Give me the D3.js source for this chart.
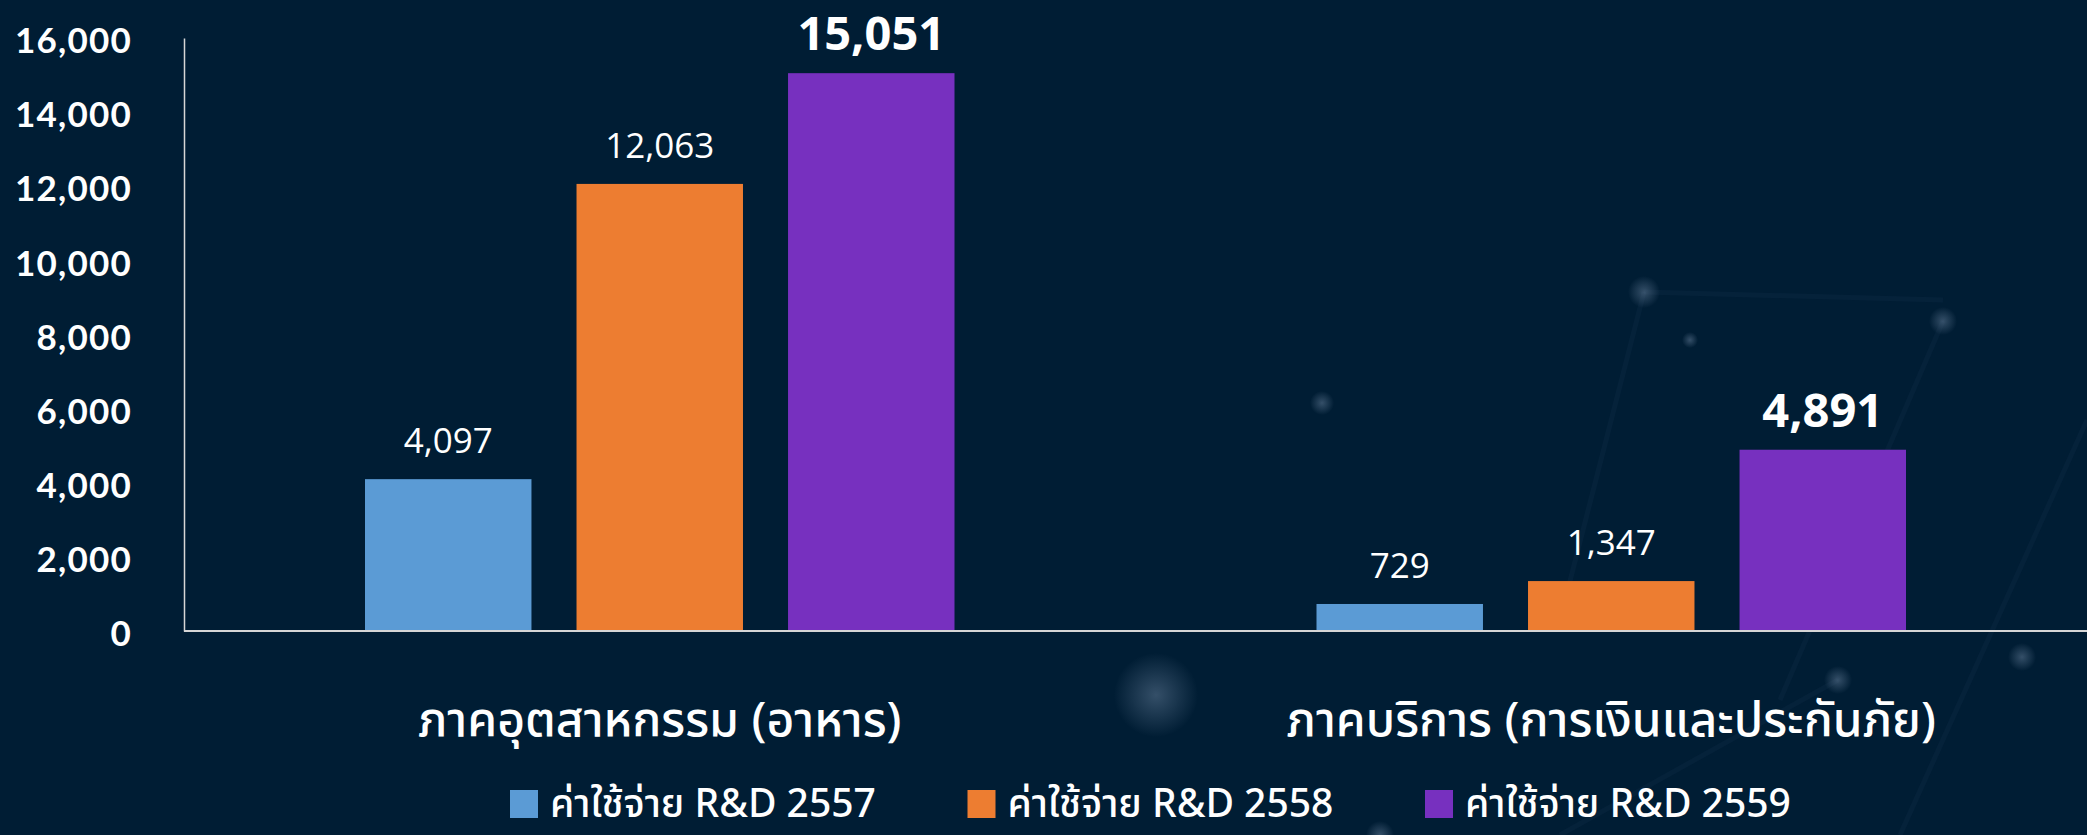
<!DOCTYPE html>
<html>
<head>
<meta charset="utf-8">
<script src="https://cdn.jsdelivr.net/npm/d3@7"></script>
<style>
  html, body { margin: 0; padding: 0; background: #001d34; }
  svg { display: block; }
  .tick text { font-family: "Lato", "Open Sans", sans-serif; }
</style>
</head>
<body>
<svg id="chart"></svg>
<script>
// data
const categories = ["ภาคอุตสาหกรรม (อาหาร)", "ภาคบริการ (การเงินและประกันภัย)"];
const series = ["ค่าใช้จ่าย R&D 2557", "ค่าใช้จ่าย R&D 2558", "ค่าใช้จ่าย R&D 2559"];
const values2557 = [4097, 729];
const values2558 = [12063, 1347];
const values2559 = [15051, 4891];
const yTicks = [0, 2000, 4000, 6000, 8000, 10000, 12000, 14000, 16000];

const colors = ["#5b9bd5", "#ed7d31", "#7730bf"];
const allValues = [values2557, values2558, values2559];

const width = 2087, height = 835;
const plotLeft = 184, plotTop = 38, plotBottom = 631;

const svg = d3.select("#chart").attr("width", width).attr("height", height);

// background glows (decoration)
const defs = svg.append("defs");
const grad = defs.append("radialGradient").attr("id", "glow");
grad.append("stop").attr("offset", "0%").attr("stop-color", "#5f7893").attr("stop-opacity", 0.55);
grad.append("stop").attr("offset", "100%").attr("stop-color", "#5f7893").attr("stop-opacity", 0);

const glows = [[1156, 695, 42], [1644, 292, 16], [1943, 321, 14], [1322, 403, 12],
  [2022, 657, 14], [1838, 680, 14], [1690, 340, 8], [1380, 835, 14]];
const links = [[1644, 292, 1560, 620], [1943, 321, 1780, 700], [1644, 292, 1943, 300],
  [1838, 680, 1560, 835], [2087, 420, 1900, 835]];

svg.append("g").selectAll("line").data(links).join("line")
  .attr("x1", d => d[0]).attr("y1", d => d[1]).attr("x2", d => d[2]).attr("y2", d => d[3])
  .attr("stroke", "#2a4a6a").attr("stroke-opacity", 0.12).attr("stroke-width", 5);
svg.append("g").selectAll("circle").data(glows).join("circle")
  .attr("cx", d => d[0]).attr("cy", d => d[1]).attr("r", d => d[2])
  .attr("fill", "url(#glow)");

// scales
const x0 = d3.scaleBand().domain(categories).range([plotLeft, width]);
const x1 = d3.scaleBand().domain(series)
  .range([181, x0.bandwidth() - 181])
  .paddingInner(0.213);
const y = d3.scaleLinear().domain([0, 16000]).range([plotBottom, plotTop]);

// y axis
const yAxis = svg.append("g")
  .attr("transform", `translate(${plotLeft},0)`)
  .call(d3.axisLeft(y).tickValues(yTicks).tickFormat(d3.format(",")).tickSize(0).tickPadding(52));
yAxis.select(".domain").attr("stroke", "#d6d6d6").attr("stroke-width", 1.5);
yAxis.selectAll(".tick text")
  .attr("fill", "#ffffff")
  .attr("font-size", 35)
  .attr("font-weight", 700)
  .attr("letter-spacing", 1.2)
  .attr("dy", "0.42em");

// bars
const groups = svg.append("g").selectAll("g").data(categories).join("g")
  .attr("transform", d => `translate(${x0(d)},0)`);

groups.selectAll("rect")
  .data((c, ci) => series.map((s, si) => ({ s, si, v: allValues[si][ci] })))
  .join("rect")
  .attr("x", d => x1(d.s))
  .attr("y", d => y(d.v))
  .attr("width", x1.bandwidth())
  .attr("height", d => y(0) - y(d.v))
  .attr("fill", d => colors[d.si]);

// value labels
groups.selectAll("text.val")
  .data((c, ci) => series.map((s, si) => ({ s, si, v: allValues[si][ci] })))
  .join("text")
  .attr("class", "val")
  .attr("x", d => x1(d.s) + x1.bandwidth() / 2)
  .attr("y", d => y(d.v) - (d.si === 2 ? 23 : 26))
  .attr("text-anchor", "middle")
  .attr("fill", "#ffffff")
  .attr("font-family", "'Open Sans', 'Noto Sans', sans-serif")
  .attr("font-size", d => d.si === 2 ? 47 : 35)
  .attr("font-weight", d => d.si === 2 ? 700 : 400)
  .text(d => d3.format(",")(d.v));

// x axis baseline
svg.append("line")
  .attr("x1", plotLeft).attr("x2", width)
  .attr("y1", y(0)).attr("y2", y(0))
  .attr("stroke", "#d6d6d6").attr("stroke-width", 2);

// category labels
svg.append("g").selectAll("text").data(categories).join("text")
  .attr("x", d => x0(d) + x0.bandwidth() / 2)
  .attr("y", 736)
  .attr("text-anchor", "middle")
  .attr("fill", "#ffffff")
  .attr("font-family", "'Noto Sans Thai', 'Noto Sans', Tahoma, sans-serif")
  .attr("font-size", 48)
  .attr("font-weight", 500)
  .text(d => d);

// legend
const legend = svg.append("g").selectAll("g").data(series).join("g")
  .attr("transform", (d, i) => `translate(${510 + i * 457.5},790)`);
legend.append("rect").attr("width", 28).attr("height", 28).attr("fill", (d, i) => colors[i]);
legend.append("text")
  .attr("x", 40).attr("y", 27)
  .attr("fill", "#ffffff")
  .attr("font-family", "'Noto Sans Thai', 'Noto Sans', Tahoma, sans-serif")
  .attr("font-size", 39)
  .attr("font-weight", 500)
  .text(d => d);
</script>
</body>
</html>
